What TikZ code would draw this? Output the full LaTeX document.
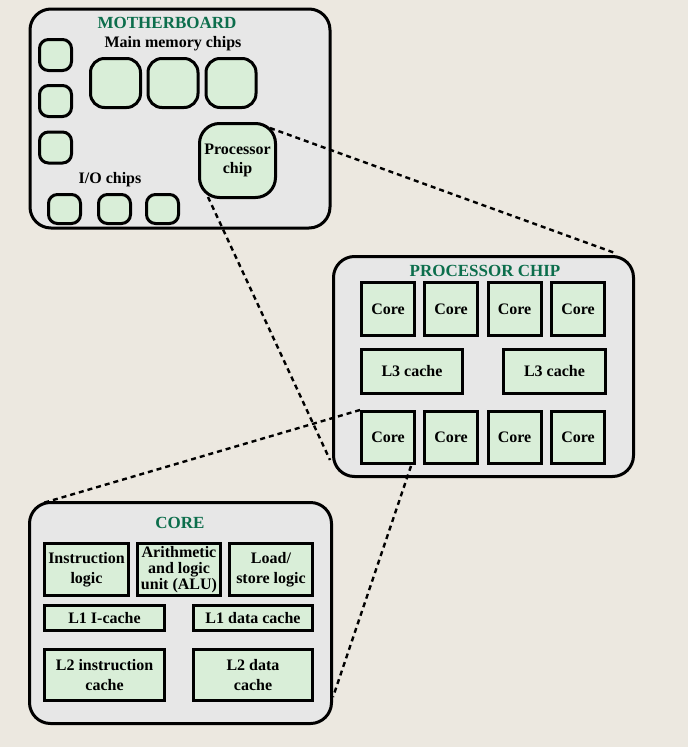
\documentclass[tikz,border=0pt]{standalone}
\usepackage{fontspec}
\setmainfont{Liberation Serif}
\definecolor{paper}{RGB}{236,232,224}
\definecolor{boardgray}{RGB}{231,231,231}
\definecolor{chipgreen}{RGB}{217,238,216}
\definecolor{titlegreen}{RGB}{12,110,76}
\tikzset{
  board/.style={draw=black, line width=3, fill=boardgray, rounded corners=21, inner sep=0},
  chip/.style={draw=black, line width=3, fill=chipgreen, rounded corners=#1, inner sep=0},
  chip/.default=9,
  unit/.style={draw=black, line width=3, fill=chipgreen, inner sep=0, align=center,
    font=\fontsize{16}{19.5}\selectfont\bfseries},
  heading/.style={text=titlegreen, inner sep=0, font=\fontsize{17}{19}\selectfont\bfseries},
  caption/.style={inner sep=0, font=\fontsize{16}{18}\selectfont\bfseries},
  zoomline/.style={line width=2.4, dash pattern=on 5pt off 4pt}
}
\begin{document}
\begin{tikzpicture}[x=1pt,y=-1pt]
\fill[paper] (0,0) rectangle (688,747);
% motherboard
\node[board, minimum width=300, minimum height=219] (mb) at (180,118.5) {};
\node[heading] (mbtitle) at (167,23) {MOTHERBOARD};
\node[caption] (memlabel) at (173,44) {Main memory chips};
\node[chip, minimum width=32, minimum height=31] (left1) at (55.5,55) {};
\node[chip, minimum width=32, minimum height=31] (left2) at (55.5,101) {};
\node[chip, minimum width=32, minimum height=31] (left3) at (55.5,147.5) {};
\node[chip=14, minimum width=50, minimum height=49] (mem1) at (115.5,83) {};
\node[chip=14, minimum width=50, minimum height=49] (mem2) at (173,83) {};
\node[chip=14, minimum width=50, minimum height=49] (mem3) at (231,83) {};
\node[chip=20, minimum width=76, minimum height=74, align=center,
  font=\fontsize{16}{19}\selectfont\bfseries] (pchip) at (237.5,160.5) {Processor\\chip};
\node[caption] (iolabel) at (110,180) {I/O chips};
\node[chip, minimum width=32, minimum height=29] (io1) at (64.5,209) {};
\node[chip, minimum width=32, minimum height=29] (io2) at (114.5,209) {};
\node[chip, minimum width=32, minimum height=29] (io3) at (162.5,209) {};
% processor chip
\node[board, minimum width=300, minimum height=220] (proc) at (483.5,366.5) {};
\node[heading] (proctitle) at (485,271) {PROCESSOR CHIP};
\node[unit, minimum width=53, minimum height=53] (core1) at (388,309) {Core};
\node[unit, minimum width=53, minimum height=53] (core2) at (451,309) {Core};
\node[unit, minimum width=53, minimum height=53] (core3) at (514.5,309) {Core};
\node[unit, minimum width=53, minimum height=53] (core4) at (578,309) {Core};
\node[unit, minimum width=101, minimum height=44] (l3a) at (412,371.5) {L3 cache};
\node[unit, minimum width=102, minimum height=44] (l3b) at (554.5,371.5) {L3 cache};
\node[unit, minimum width=53, minimum height=52] (core5) at (388,437.5) {Core};
\node[unit, minimum width=53, minimum height=52] (core6) at (451,437.5) {Core};
\node[unit, minimum width=53, minimum height=52] (core7) at (514.5,437.5) {Core};
\node[unit, minimum width=53, minimum height=52] (core8) at (578,437.5) {Core};
% core
\node[board, minimum width=302, minimum height=221] (corebox) at (180.5,613) {};
\node[heading] (coretitle) at (180,523) {CORE};
\node[unit, minimum width=84, minimum height=52] (ilogic) at (86.5,569.5) {Instruction\\logic};
\node[unit, minimum width=83, minimum height=52,
  font=\fontsize{16}{16}\selectfont\bfseries] (alu) at (179,569.5) {Arithmetic\\and logic\\unit (ALU)};
\node[unit, minimum width=83, minimum height=52] (lslogic) at (271,569.5) {Load/\\store logic};
\node[unit, minimum width=120, minimum height=25] (l1i) at (104.5,618) {L1 I-cache};
\node[unit, minimum width=119, minimum height=25] (l1d) at (253,618) {L1 data cache};
\node[unit, minimum width=120, minimum height=51] (l2i) at (104.5,675) {L2 instruction\\cache};
\node[unit, minimum width=119, minimum height=51] (l2d) at (253,675) {L2 data\\cache};
% zoom lines
\coordinate (pchipne) at (270,128);
\coordinate (pchipsw) at (208,197);
\coordinate (procne) at (615,253);
\coordinate (procsw) at (330,460);
\coordinate (corenw) at (43,503);
\coordinate (coree) at (333,697);
\coordinate (core5s) at (411,466);
\draw[zoomline] (pchipne) -- (procne);
\draw[zoomline] (pchipsw) -- (procsw);
\draw[zoomline] (core5.north west) -- (corenw);
\draw[zoomline] (core5s) -- (coree);
\end{tikzpicture}
\end{document}
